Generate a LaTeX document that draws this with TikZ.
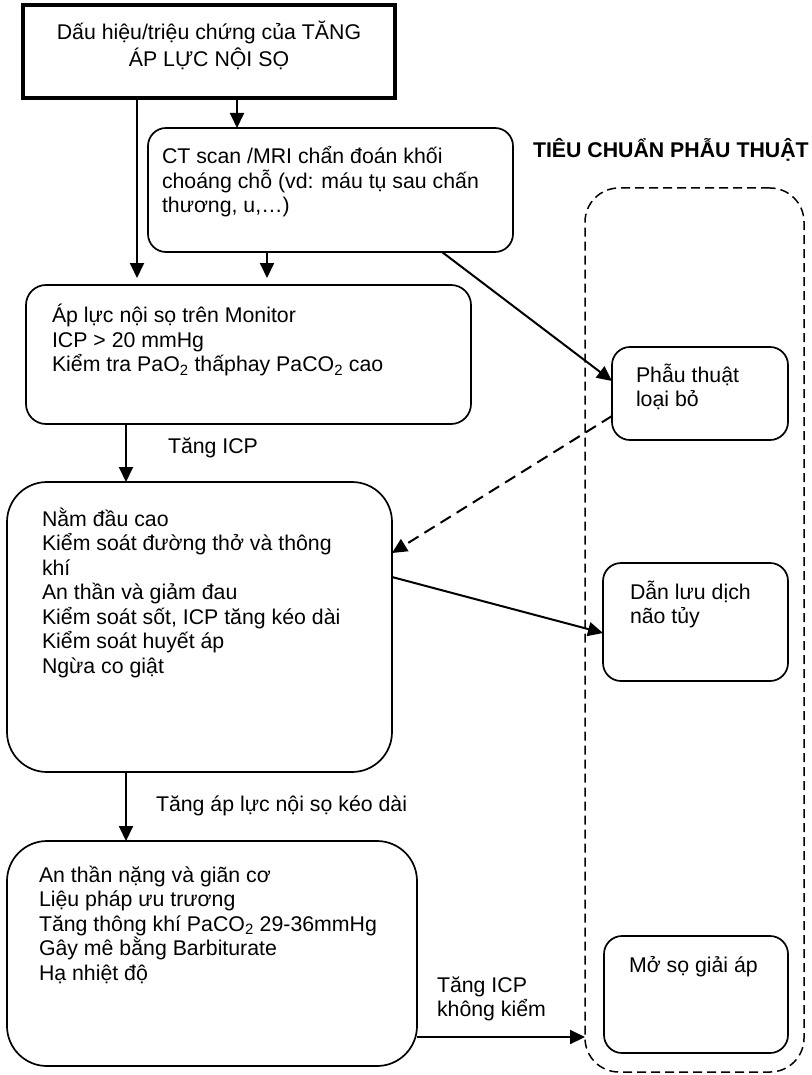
\documentclass[tikz,border=0pt]{standalone}
\usepackage{fontspec}
\setmainfont{Liberation Sans}
\usetikzlibrary{arrows.meta}
% left-aligned and centred line stacks with a fixed line pitch;
% the baseline of the stack is the baseline of its first line
\newcommand{\linesL}[1]{\vtop{\baselineskip=24.5pt\lineskiplimit=-100pt\halign{##\hfil\cr#1\crcr}}}
\newcommand{\linesC}[2][24.5pt]{\vtop{\baselineskip=#1\lineskiplimit=-100pt\halign{\hfil##\hfil\cr#2\crcr}}}
\newcommand{\bodysize}{\fontsize{21.3pt}{24.5pt}\selectfont}
\begin{document}
\begin{tikzpicture}[x=1pt,y=-1pt,
  box/.style={draw, line width=1.7pt, rounded corners=#1, inner sep=0pt, outer sep=0pt, anchor=north west},
  box/.default=20pt,
  headbox/.style={draw, line width=3.6pt, sharp corners, inner sep=0pt, outer sep=0pt, anchor=north west},
  zone/.style={draw, line width=1.5pt, rounded corners=34pt, dash pattern=on 9pt off 5pt, inner sep=0pt, outer sep=0pt, anchor=north west},
  txt/.style={anchor=base west, inner sep=0pt, outer sep=0pt, font=\bodysize},
  ctxt/.style={anchor=base, inner sep=0pt, outer sep=0pt, font=\bodysize},
  arr/.style={draw, line width=2pt, -{Triangle[length=15pt,width=14pt]}},
  darr/.style={arr, dash pattern=on 12pt off 7pt}]

\useasboundingbox (0,0) rectangle (811,1075);

% ---- boxes ----
\node[headbox, minimum width=372pt, minimum height=93pt] (top) at (23,5) {};
\node[box=18pt, minimum width=365pt, minimum height=124pt] (ct) at (148,128) {};
\node[box=20pt, minimum width=445pt, minimum height=139pt] (ap) at (26,285) {};
\node[box=40pt, minimum width=385pt, minimum height=290pt] (nam) at (7,482) {};
\node[box=40pt, minimum width=410pt, minimum height=225pt] (an) at (7,841) {};
\node[zone, minimum width=219pt, minimum height=884pt] (region) at (585,188) {};
\node[box=18pt, minimum width=176pt, minimum height=93pt] (pt) at (612,347) {};
\node[box=18pt, minimum width=185pt, minimum height=118pt] (dl) at (603,563) {};
\node[box=18pt, minimum width=184pt, minimum height=117pt] (ms) at (604,936) {};

% ---- texts ----
\node[ctxt] (ttop) at (209,40) {\linesC[27pt]{Dấu hiệu/triệu chứng của TĂNG\cr ÁP LỰC NỘI SỌ}};
\node[txt] (tct) at (162,164) {\linesL{CT scan /MRI chẩn đoán khối\cr choáng chỗ (vd: máu tụ sau chấn\cr thương, u,…)}};
\node[txt] (tap) at (52,322.8) {\linesL{Áp lực nội sọ trên Monitor\cr ICP > 20 mmHg\cr Kiểm tra PaO\textsubscript{2} thấphay PaCO\textsubscript{2} cao}};
\node[txt] (tnam) at (42,526) {\linesL{Nằm đầu cao\cr Kiểm soát đường thở và thông\cr khí\cr An thần và giảm đau\cr Kiểm soát sốt, ICP tăng kéo dài\cr Kiểm soát huyết áp\cr Ngừa co giật}};
\node[txt] (tan) at (39,882) {\linesL{An thần nặng và giãn cơ\cr Liệu pháp ưu trương\cr Tăng thông khí PaCO\textsubscript{2} 29-36mmHg\cr Gây mê bằng Barbiturate\cr Hạ nhiệt độ}};
\node[txt, font=\bodysize\bfseries] (title) at (533,158) {TIÊU CHUẨN PHẪU THUẬT};
\node[txt] (tpt) at (636,382) {\linesL{Phẫu thuật\cr loại bỏ}};
\node[txt] (tdl) at (630,599) {\linesL{Dẫn lưu dịch\cr não tủy}};
\node[txt] (tms) at (629,972) {Mở sọ giải áp};

% ---- edge labels ----
\node[txt] (l1) at (168,453) {Tăng ICP};
\node[txt] (l2) at (156,811) {Tăng áp lực nội sọ kéo dài};
\node[txt] (l3) at (437,992) {\linesL{Tăng ICP\cr không kiểm}};

% ---- connectors ----
\draw[arr, shorten >=7pt] (top.south -| 137,0) -- (ap.north -| 137,0);
\draw[arr] (top.south -| 237,0) -- (ct.north -| 237,0);
\draw[arr, shorten >=7pt] (ct.south -| 267,0) -- (ap.north -| 267,0);
\draw[arr] (ct.south -| 442,0) -- (pt.west |- 0,381);
\draw[arr] (ap.south -| 126,0) -- (nam.north -| 126,0);
\draw[darr] (pt.west |- 0,416) -- (nam.east |- 0,553);
\draw[arr] (nam.east |- 0,577) -- (dl.west |- 0,633);
\draw[arr] (nam.south -| 126,0) -- (an.north -| 126,0);
\draw[arr] (an.east |- 0,1037) -- (region.west |- 0,1037);

\end{tikzpicture}
\end{document}
